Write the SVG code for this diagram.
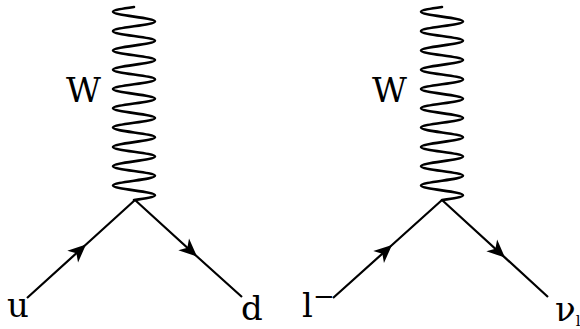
<svg xmlns="http://www.w3.org/2000/svg" width="580" height="329" viewBox="0 0 580 329">
<style>
.wave{fill:none;stroke:#000;stroke-width:2.6;stroke-linecap:round}
.ferm{fill:none;stroke:#000;stroke-width:2.2;marker-mid:url(#arr)}
.lbl{font-family:"DejaVu Serif","Liberation Serif",serif;font-size:34px;fill:#000}
</style>
<defs>
<marker id="arr" markerUnits="userSpaceOnUse" markerWidth="30" markerHeight="30" refX="0" refY="0" viewBox="-20 -15 30 30" orient="auto" overflow="visible">
<path d="M0,0 L-18,-8 L-13,0 L-18,8 Z" fill="#000"/>
</marker>
<path id="wv" d="M0,0 c -10.76,1.574 -21,3.079 -21,4.825 s 10.24,3.251 21,4.825 s 21,3.079 21,4.825 s -10.24,3.251 -21,4.825 s -21,3.079 -21,4.825 s 10.24,3.251 21,4.825 s 21,3.079 21,4.825 s -10.24,3.251 -21,4.825 s -21,3.079 -21,4.825 s 10.24,3.251 21,4.825 s 21,3.079 21,4.825 s -10.24,3.251 -21,4.825 s -21,3.079 -21,4.825 s 10.24,3.251 21,4.825 s 21,3.079 21,4.825 s -10.24,3.251 -21,4.825 s -21,3.079 -21,4.825 s 10.24,3.251 21,4.825 s 21,3.079 21,4.825 s -10.24,3.251 -21,4.825 s -21,3.079 -21,4.825 s 10.24,3.251 21,4.825 s 21,3.079 21,4.825 s -10.24,3.251 -21,4.825 s -21,3.079 -21,4.825 s 10.24,3.251 21,4.825 s 21,3.079 21,4.825 s -10.24,3.251 -21,4.825 s -21,3.079 -21,4.825 s 10.24,3.251 21,4.825 s 21,3.079 21,4.825 s -10.24,3.251 -21,4.825 s -21,3.079 -21,4.825 s 10.24,3.251 21,4.825 s 21,3.079 21,4.825 s -10.24,3.251 -21,4.825 s -21,3.079 -21,4.825 s 10.24,3.251 21,4.825 s 21,3.079 21,4.825 s -10.24,3.251 -21,4.825"/>
</defs>
<g id="connectors">
<use href="#wv" class="wave" x="134" y="7"/>
<polyline class="ferm" points="27,298 86,244.5 135,200"/>
<polyline class="ferm" points="135,200 197,256.5 242,297"/>
<use href="#wv" class="wave" x="442" y="7"/>
<polyline class="ferm" points="333,298 392,245 442,200"/>
<polyline class="ferm" points="442,200 505,257.6 548,297"/>
</g>
<g id="W1"><text class="lbl" x="66" y="102">W</text></g>
<g id="u"><text class="lbl" x="7" y="317">u</text></g>
<g id="d"><text class="lbl" x="241" y="320">d</text></g>
<g id="W2"><text class="lbl" x="372" y="102">W</text></g>
<g id="lminus"><text class="lbl" x="302" y="317">l<tspan font-size="26" dy="-12">−</tspan></text></g>
<g id="nu"><text class="lbl" x="555" y="321">ν<tspan font-size="15" dy="5">l</tspan></text></g>
</svg>
